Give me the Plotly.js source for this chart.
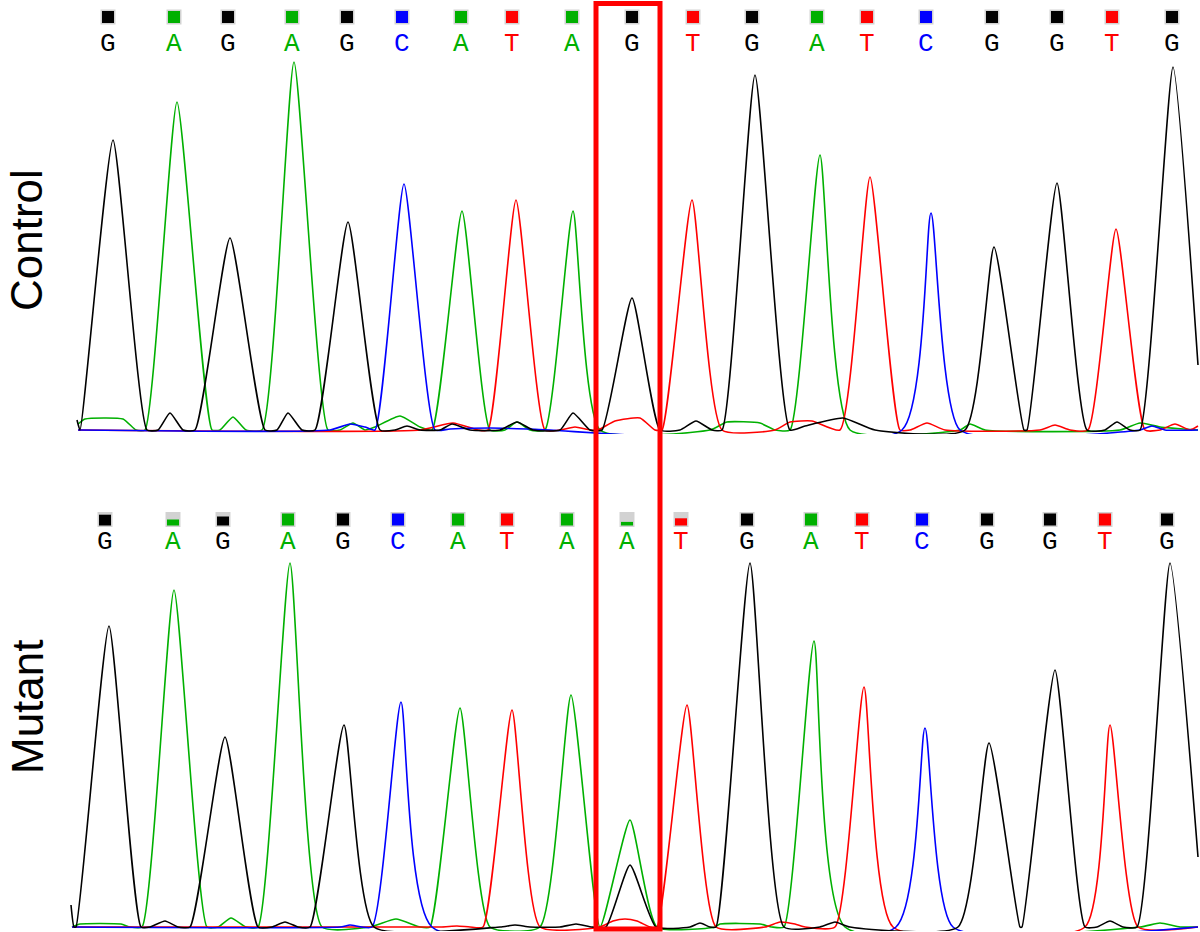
<!DOCTYPE html>
<html>
<head>
<meta charset="utf-8">
<script src="https://cdn.plot.ly/plotly-3.0.1.min.js"></script>
<style>html,body{margin:0;padding:0;background:#fff;}#chart{width:1200px;height:932px;}</style>
</head>
<body>
<div id="chart"></div>
<script>
// ---------- Base calls ----------
const controlCalls   = ['G','A','G','A','G','C','A','T','A','G','T','G','A','T','C','G','G','T','G'];
const controlCallX   = [108,174,228,292,347,402,461,512,572,632,693,752,817,867,926,992,1057,1112,1172];
const controlQuality = [1,1,1,1,1,1,1,1,1,1,1,1,1,1,1,1,1,1,1];

const mutantCalls    = ['G','A','G','A','G','C','A','T','A','A','T','G','A','T','C','G','G','T','G'];
const mutantCallX    = [105,173,223,288,343,398,458,507,567,627,681,747,811,862,922,987,1050,1105,1167];
const mutantQuality  = [0.9,0.5,0.75,1,1,1,1,1,1,0.3,0.6,1,1,1,1,1,1,1,1];

// ---------- Trace vertices (scan position, signal) : Control ----------
const controlGX = [77,80,113,147,158,170,183,195,230,265,277,288,302,315,348,380,395,407,420,440,452,470,500,517,533,560,573,590,602,632,660,680,696,712,722,755,790,805,843,875,965,994,1024,1027,1057,1087,1105,1117,1130,1140,1173,1198];
const controlGY = [10,0,290,0,0,17,0,0,192,0,0,17,0,0,208,0,0,4,0,0,6,0,0,8,0,0,17,0,0,132,0,0,9,0,0,355,0,4,12,0,0,183,0,0,247,0,0,8,0,0,363,65];

const controlAX = [78,85,123,136,145,177,212,220,233,246,262,294,328,340,353,365,375,400,420,432,462,490,505,517,530,545,573,600,710,727,760,775,790,820,850,960,970,985,1120,1140,1160,1198];
const controlAY = [6,11,11,0,0,328,0,0,13,0,0,368,0,0,7,0,3,14,3,0,219,0,0,8,0,0,219,0,0,8,7,0,0,275,0,0,6,0,0,7,3,0];

const controlTX = [78,420,453,478,488,516,545,560,575,590,598,615,640,655,662,692,722,775,790,812,840,870,900,910,927,945,1040,1055,1070,1088,1116,1145,1160,1175,1190,1198];
const controlTY = [0,0,7,0,0,230,0,0,3,0,0,9,12,0,0,230,0,0,8,9,0,253,0,0,7,0,0,5,0,0,201,0,0,6,0,4];

const controlCX = [78,330,350,365,375,404,435,450,490,530,902,931,960,1140,1152,1165,1198];
const controlCY = [0,0,6,3,0,246,0,1,2,1,0,217,0,0,4,0,0];

// ---------- Trace vertices : Mutant ----------
const mutantGX = [71,74,76,109,141,150,165,178,190,225,258,272,285,298,310,344,374,500,515,530,560,576,592,606,630,656,690,700,710,716,750,784,820,835,850,958,989,1020,1022,1055,1085,1097,1110,1123,1137,1170,1198];
const mutantGY = [22,0,0,301,0,0,6,0,0,190,0,0,5,0,0,202,0,0,2,0,0,3,0,0,62,0,0,4,0,0,364,0,0,5,0,0,184,0,0,257,0,0,6,0,0,364,70];

const mutantAX = [72,80,121,130,142,174,207,218,231,246,258,290,322,370,396,420,430,460,490,540,571,600,630,657,715,720,760,772,784,814,845,1140,1160,1180,1198];
const mutantAY = [0,3,3,0,0,337,0,0,9,0,0,364,0,0,8,0,0,219,0,0,232,0,107,0,0,3,3,0,0,286,0,0,4,0,0];

const mutantTX = [72,440,457,470,483,512,540,600,613,625,637,650,657,687,716,765,780,795,805,835,864,893,1085,1110,1138,1198];
const mutantTY = [0,0,1,0,0,217,0,0,6,8,6,0,0,222,0,0,5,3,0,0,240,0,0,202,0,0];

const mutantCX = [72,340,350,372,401,432,896,925,953,1198];
const mutantCY = [0,0,2,0,225,0,0,199,0,0];

// ---------- Styling ----------
const baseColor = {G:'#000000', A:'#00b000', T:'#ff0000', C:'#0000ff'};
const H = 932;
const py = p => 1 - p / H; // pixel row -> paper fraction

function trace(x, y, base, axis){
  return {x:x, y:y, type:'scatter', mode:'lines',
          line:{color:baseColor[base], width:1.6, shape:'spline', smoothing:0.5},
          xaxis: axis === 1 ? 'x' : 'x2', yaxis: axis === 1 ? 'y' : 'y2',
          hoverinfo:'skip', cliponaxis:true};
}

const data = [
  trace(controlAX, controlAY, 'A', 1),
  trace(controlTX, controlTY, 'T', 1),
  trace(controlCX, controlCY, 'C', 1),
  trace(controlGX, controlGY, 'G', 1),
  trace(mutantAX, mutantAY, 'A', 2),
  trace(mutantTX, mutantTY, 'T', 2),
  trace(mutantCX, mutantCY, 'C', 2),
  trace(mutantGX, mutantGY, 'G', 2)
];

const shapes = [];
const annotations = [];

function addCalls(calls, xs, qual, sqCenter, letterCenter, xref){
  calls.forEach((b, i) => {
    const cx = xs[i];
    shapes.push({type:'rect', xref:xref, yref:'paper',
      x0:cx-7.5, x1:cx+7.5, y0:py(sqCenter+7.5), y1:py(sqCenter-7.5),
      fillcolor:'#d2d2d2', line:{width:0}, layer:'above'});
    const bottom = sqCenter + 6, top = bottom - 12 * qual[i];
    shapes.push({type:'rect', xref:xref, yref:'paper',
      x0:cx-6, x1:cx+6, y0:py(bottom), y1:py(top),
      fillcolor:baseColor[b], line:{width:0}, layer:'above'});
    annotations.push({xref:xref, yref:'paper', x:cx, y:py(letterCenter),
      text:b, showarrow:false, xanchor:'center', yanchor:'middle',
      font:{family:'"Liberation Mono"', size:26, color:baseColor[b]}});
  });
}
addCalls(controlCalls, controlCallX, controlQuality, 17, 44, 'x');
addCalls(mutantCalls, mutantCallX, mutantQuality, 519.5, 542, 'x2');

// highlight box round the variant position
shapes.push({type:'rect', xref:'x', yref:'paper', x0:596, x1:660,
  y0:py(929), y1:py(3.5), line:{color:'#ff0000', width:5}, fillcolor:'rgba(0,0,0,0)', layer:'above'});

annotations.push({xref:'paper', yref:'paper', x:26/1200, y:py(240), text:'Control',
  textangle:-90, showarrow:false, xanchor:'center', yanchor:'middle',
  font:{family:'Liberation Sans, Arial, sans-serif', size:44, color:'#000'}});
annotations.push({xref:'paper', yref:'paper', x:27/1200, y:py(707), text:'Mutant',
  textangle:-90, showarrow:false, xanchor:'center', yanchor:'middle',
  font:{family:'Liberation Sans, Arial, sans-serif', size:44, color:'#000'}});

const layout = {
  width:1200, height:932,
  margin:{l:0, r:0, t:0, b:0, pad:0},
  paper_bgcolor:'#ffffff', plot_bgcolor:'rgba(0,0,0,0)',
  showlegend:false,
  xaxis:{range:[0,1200], domain:[0,1], visible:false, fixedrange:true, anchor:'y'},
  xaxis2:{range:[0,1200], domain:[0,1], visible:false, fixedrange:true, anchor:'y2'},
  yaxis:{range:[-4,430], domain:[py(434), 1], visible:false, fixedrange:true, anchor:'x'},
  yaxis2:{range:[-4,457], domain:[py(931), py(470)], visible:false, fixedrange:true, anchor:'x2'},
  shapes:shapes,
  annotations:annotations
};

Plotly.newPlot('chart', data, layout, {staticPlot:true, displayModeBar:false});
</script>
</body>
</html>
